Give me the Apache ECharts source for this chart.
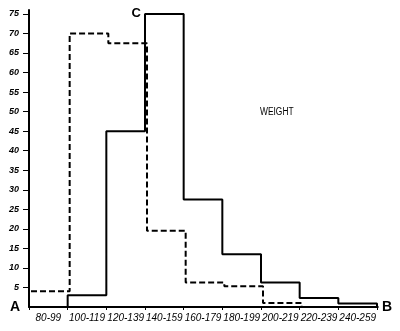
<!DOCTYPE html>
<html>
<head>
<meta charset="utf-8">
<style>
  html, body { margin: 0; padding: 0; background: #fff; }
  #chart { width: 400px; height: 331px; }
</style>
<script src="https://cdn.jsdelivr.net/npm/echarts@6/dist/echarts.min.js"></script>
</head>
<body>
<div id="chart"></div>
<script>
// Weight classes (lbs) and bin edges
const categories = ['80-99', '100-119', '120-139', '140-159', '160-179', '180-199', '200-219', '220-239', '240-259'];
const binEdges = [80, 100, 120, 140, 160, 180, 200, 220, 240, 260];
// Solid curve (C) and dashed curve frequencies per weight class
const solidValues = [0, 3, 45, 75, 27.5, 13.5, 6.3, 2.3, 0.9];
const dashedValues = [4, 70, 67.5, 19.5, 6.3, 5.3, 1, 0, 0];
const yTicks = [5, 10, 15, 20, 25, 30, 35, 40, 45, 50, 55, 60, 65, 70, 75];

// Turn per-class values into step-line vertices along the weight axis
function stepPoints(values, closeToZero) {
  const pts = values.map((v, i) => [binEdges[i], v]);
  const last = values[values.length - 1];
  pts.push([binEdges[binEdges.length - 1], last]);
  if (closeToZero) pts.push([binEdges[binEdges.length - 1], 0]);
  return pts;
}

const solidPts = stepPoints(solidValues, true);
// mark the tallest class with the letter C
const peak = solidValues.indexOf(Math.max(...solidValues));
solidPts[peak] = {
  value: solidPts[peak],
  label: { show: true, position: 'left', formatter: 'C', distance: 4,
           fontFamily: 'Liberation Sans', fontWeight: 'bold', fontSize: 13, color: '#000' }
};
const dashedPts = stepPoints(dashedValues, false);

const chart = echarts.init(document.getElementById('chart'), null, { renderer: 'canvas' });

const labelFont = { fontFamily: 'Liberation Sans', fontStyle: 'italic', color: '#000' };
const letterStyle = { fontFamily: 'Liberation Sans', fontWeight: 'bold', fontSize: 14, color: '#000',
                      verticalAlign: 'middle', padding: [3, 0, 0, 0] };

chart.setOption({
  animation: false,
  backgroundColor: '#fff',
  grid: [
    { left: 29, right: 23, top: 10, bottom: 24 },
    { left: 31, right: 21, top: 10, bottom: 24 }
  ],
  xAxis: [
    {
      type: 'category', gridIndex: 0, data: categories, boundaryGap: true, position: 'bottom',
      axisLine: { lineStyle: { color: '#000', width: 2 } },
      axisTick: { show: true, length: 3, lineStyle: { color: '#000', width: 1 } },
      axisLabel: Object.assign({ interval: 0, fontSize: 10, margin: 6 }, labelFont),
      name: 'B', nameLocation: 'end', nameGap: 5, nameTextStyle: letterStyle
    },
    {
      type: 'value', gridIndex: 0, min: binEdges[0], max: binEdges[binEdges.length - 1],
      position: 'bottom', offset: 0,
      axisLine: { show: false }, axisTick: { show: false }, axisLabel: { show: false },
      splitLine: { show: false },
      name: 'A', nameLocation: 'start', nameGap: 9, nameTextStyle: letterStyle
    },
    {
      type: 'value', gridIndex: 1, min: binEdges[0], max: binEdges[binEdges.length - 1],
      show: false
    }
  ],
  yAxis: [
    {
      type: 'value', gridIndex: 0, min: 0, max: 76,
      axisLine: { show: true, lineStyle: { color: '#000', width: 2 } },
      axisTick: { show: true, length: 6, customValues: yTicks, lineStyle: { color: '#000', width: 1 } },
      axisLabel: Object.assign({ customValues: yTicks, fontSize: 9, fontWeight: 'bold', margin: 10 }, labelFont),
      splitLine: { show: false }
    },
    { type: 'value', gridIndex: 1, min: 0, max: 76, show: false }
  ],
  series: [
    {
      name: 'solid', type: 'line', xAxisIndex: 1, yAxisIndex: 0, step: 'end',
      data: solidPts, symbol: 'circle', symbolSize: 0, showSymbol: true, z: 3,
      lineStyle: { color: '#000', width: 2 }
    },
    {
      name: 'dashed', type: 'line', xAxisIndex: 2, yAxisIndex: 1, step: 'end',
      data: dashedPts, symbol: 'none', z: 2,
      lineStyle: { color: '#000', width: 2, type: [6, 3] }
    }
  ],
  graphic: [
    {
      type: 'text', x: 260, y: 107, scaleX: 0.84,
      style: { text: 'WEIGHT', fontFamily: 'Liberation Sans', fontSize: 10, fill: '#000' }
    }
  ]
});
</script>
</body>
</html>
